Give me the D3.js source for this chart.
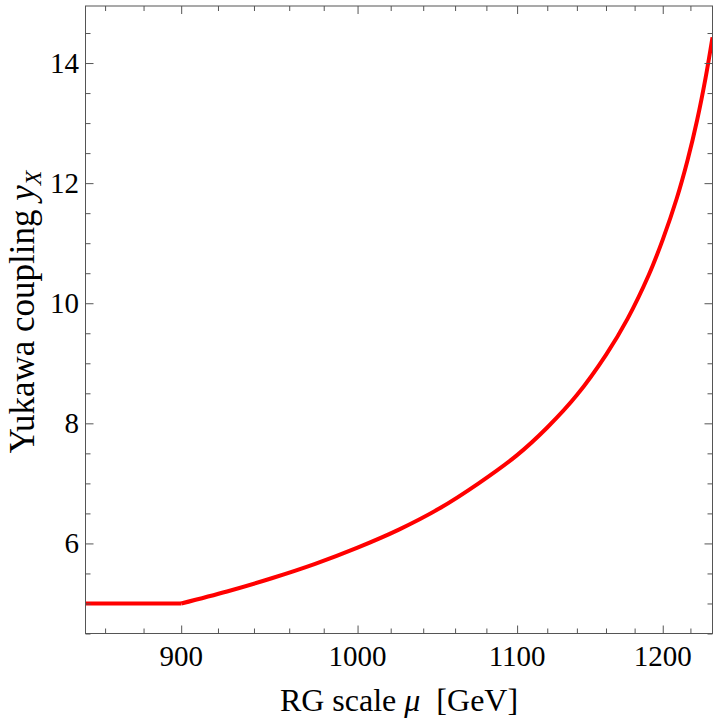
<!DOCTYPE html>
<html>
<head>
<meta charset="utf-8">
<script src="https://cdn.jsdelivr.net/npm/d3@7"></script>
<style>
	body { margin: 0; background: #fff; }
	svg text { font-family: "Liberation Serif", "Times New Roman", serif; fill: #000; }
</style>
</head>
<body>
<div id="chartDiv"></div>
<script>

// Data (RG running of the Yukawa coupling):
var muValues  = [850, 900, 925, 950, 975, 1000, 1025, 1050, 1075, 1100, 1120,
                 1140, 1160, 1175, 1190, 1200, 1210, 1218, 1225, 1231, 1236.2];
var yxValues  = [5.00, 5.00, 5.20, 5.42, 5.66, 5.93, 6.23, 6.58, 7.00, 7.47, 7.93,
                 8.47, 9.14, 9.74, 10.47, 11.06, 11.74, 12.39, 13.06, 13.74, 14.43];

var xMajorTicks = [900, 1000, 1100, 1200];
var xMinorTicks = [860, 880, 920, 940, 960, 980, 1020, 1040, 1060, 1080,
                   1120, 1140, 1160, 1180, 1220];
var yMajorTicks = [6, 8, 10, 12, 14];
var yMinorTicks = [4.5, 5, 5.5, 6.5, 7, 7.5, 8.5, 9, 9.5, 10.5, 11, 11.5,
                   12.5, 13, 13.5, 14.5];

var YukawaPlot = function(width, height) {

	// Frame edges in pixels:
	var FRAME_LEFT   = 85.5;
	var FRAME_RIGHT  = 712.5;
	var FRAME_TOP    = 6;
	var FRAME_BOTTOM = 633.5;

	var MAJOR_LEN    = 8;
	var MINOR_LEN    = 5;
	var FRAME_COLOR  = "#555";

	var svg    = null;
	var xScale = null;
	var yScale = null;

	/*---------------------------
	| constructor 
	-----------------*/

	var constructor = function() {

		svg = d3.select("#chartDiv").append("svg")
			.attr("width", width)
			.attr("height", height);

		// x axis is logarithmic in mu:
		xScale = d3.scaleLog()
			.domain([850, 1236.2])
			.range([FRAME_LEFT, FRAME_RIGHT]);
		yScale = d3.scaleLinear()
			.domain([4.5, 14.95])
			.range([FRAME_BOTTOM, FRAME_TOP]);

		drawCurve();
		drawFrame();
		drawLabels();
		return {};
	}

	/*---------------------------
	| drawCurve 
	-----------------*/

	var drawCurve = function() {

		svg.append("clipPath")
			.attr("id", "plotClip")
		  .append("rect")
			.attr("x", FRAME_LEFT)
			.attr("y", FRAME_TOP)
			.attr("width", FRAME_RIGHT - FRAME_LEFT)
			.attr("height", FRAME_BOTTOM - FRAME_TOP);

		let pts = muValues.map(function(m, i) { return [m, yxValues[i]]; });

		// Flat piece below 900 GeV is straight, the running part is smooth.
		// Keeping them apart keeps the kink at 900:
		let flatLine = d3.line()
			.x(function(d) { return xScale(d[0]); })
			.y(function(d) { return yScale(d[1]); });
		let runLine = d3.line()
			.x(function(d) { return xScale(d[0]); })
			.y(function(d) { return yScale(d[1]); })
			.curve(d3.curveCatmullRom.alpha(0.5));

		let g = svg.append("g").attr("clip-path", "url(#plotClip)");
		g.append("path")
			.attr("d", flatLine(pts.slice(0, 2)))
			.attr("fill", "none")
			.attr("stroke", "#ff0000")
			.attr("stroke-width", 4);
		g.append("path")
			.attr("d", runLine(pts.slice(1)))
			.attr("fill", "none")
			.attr("stroke", "#ff0000")
			.attr("stroke-width", 4)
			.attr("stroke-linejoin", "round");
	}

	/*---------------------------
	| drawFrame 
	-----------------*/

	var drawFrame = function() {

		svg.append("rect")
			.attr("x", FRAME_LEFT)
			.attr("y", FRAME_TOP)
			.attr("width", FRAME_RIGHT - FRAME_LEFT)
			.attr("height", FRAME_BOTTOM - FRAME_TOP)
			.attr("fill", "none")
			.attr("stroke", FRAME_COLOR)
			.attr("stroke-width", 1);

		// Ticks point inwards on all four sides:
		let bottom = d3.axisBottom(xScale).tickFormat("").tickSizeOuter(0);
		let top    = d3.axisTop(xScale).tickFormat("").tickSizeOuter(0);
		let left   = d3.axisLeft(yScale).tickFormat("").tickSizeOuter(0);
		let right  = d3.axisRight(yScale).tickFormat("").tickSizeOuter(0);

		[[bottom, "translate(0," + FRAME_BOTTOM + ")", true],
		 [top,    "translate(0," + FRAME_TOP + ")", true],
		 [left,   "translate(" + FRAME_LEFT + ",0)", false],
		 [right,  "translate(" + FRAME_RIGHT + ",0)", false]].forEach(function(a) {
			let major = a[2] ? xMajorTicks : yMajorTicks;
			let minor = a[2] ? xMinorTicks : yMinorTicks;
			svg.append("g")
				.attr("class", "majorTicks")
				.attr("transform", a[1])
				.call(a[0].tickValues(major).tickSizeInner(-MAJOR_LEN));
			svg.append("g")
				.attr("class", "minorTicks")
				.attr("transform", a[1])
				.call(a[0].tickValues(minor).tickSizeInner(-MINOR_LEN));
		});

		svg.selectAll(".majorTicks path, .minorTicks path").remove();
		svg.selectAll(".majorTicks line, .minorTicks line")
			.attr("stroke", FRAME_COLOR)
			.attr("stroke-width", 1);
	}

	/*---------------------------
	| drawLabels 
	-----------------*/

	var drawLabels = function() {

		svg.selectAll(".xLabel")
			.data(xMajorTicks)
			.enter().append("text")
			  .attr("class", "xLabel")
			  .attr("x", function(d) { return xScale(d); })
			  .attr("y", 666)
			  .attr("text-anchor", "middle")
			  .attr("font-size", 29)
			  .text(function(d) { return d; });

		svg.selectAll(".yLabel")
			.data(yMajorTicks)
			.enter().append("text")
			  .attr("class", "yLabel")
			  .attr("x", 79)
			  .attr("y", function(d) { return yScale(d) + 10; })
			  .attr("text-anchor", "end")
			  .attr("font-size", 29)
			  .text(function(d) { return d; });

		let xTitle = svg.append("text")
			.attr("x", (FRAME_LEFT + FRAME_RIGHT) / 2)
			.attr("y", 711)
			.attr("text-anchor", "middle")
			.attr("font-size", 32);
		xTitle.append("tspan").text("RG scale ");
		xTitle.append("tspan").attr("font-style", "italic").text("\u03bc");
		xTitle.append("tspan").text("\u00a0\u00a0[GeV]");

		// Rotated title, kept a few pixels clear of the left edge:
		let yTitle = svg.append("text")
			.attr("transform", "translate(34,312) rotate(-90)")
			.attr("text-anchor", "middle")
			.attr("font-size", 35);
		yTitle.append("tspan").text("Yukawa coupling ");
		yTitle.append("tspan").attr("font-style", "italic").text("y");
		yTitle.append("tspan")
			.attr("font-style", "italic")
			.attr("font-size", 24)
			.attr("dy", 7)
			.text("X");
	}

	return constructor();
}

var yukawaPlot = YukawaPlot(714, 720);

</script>
</body>
</html>
